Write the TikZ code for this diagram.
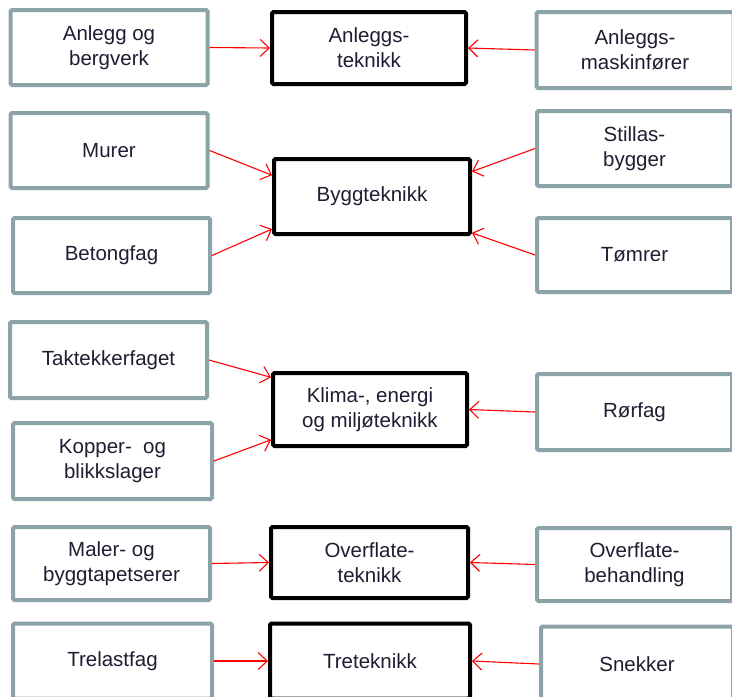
\documentclass[tikz,border=0pt]{standalone}
\usepackage{fontspec}
\setmainfont{Liberation Sans}
\usetikzlibrary{arrows.meta}
\definecolor{boxgray}{RGB}{140,164,167}
\definecolor{txtcol}{RGB}{30,30,50}

\begin{document}
\begin{tikzpicture}[x=1pt,y=-1pt,
  trade/.style={draw=boxgray,line width=4pt,rounded corners=1.5pt,fill=white,
    minimum width=197pt,minimum height=75pt,inner sep=0pt,align=center,
    text=txtcol,font=\fontsize{20.5}{25}\selectfont},
  area/.style={trade,draw=black},
  feed/.style={red,line width=1.1pt,-{Straight Barb[length=9pt,width=17pt]}}]
\fill[white] (0,0) rectangle (732,697);
\clip (0,0) rectangle (732,697);
% row 1
\node[trade] (anlegg) at (109,47.5) {Anlegg og\\bergverk};
\node[area,minimum width=194pt,minimum height=72pt] (anleggtek) at (369,48) {Anleggs-\\teknikk};
\node[trade,minimum height=76pt] (maskin) at (635,50) {Anleggs-\\maskinfører};
\draw[feed] (anlegg.east) -- (anleggtek.west);
\draw[feed] (maskin.west) -- (anleggtek.east);
% row 2
\node[trade] (murer) at (109,150.5) {Murer};
\node[trade] (betong) at (111.5,255.5) {Betongfag};
\node[area,minimum width=196pt] (bygg) at (372,196.5) {Byggteknikk};
\node[trade,minimum width=195pt] (stillas) at (634.5,148.5) {Stillas-\\bygger};
\node[trade,minimum width=195pt,minimum height=74pt] (tomrer) at (634.5,255) {Tømrer};
\draw[feed] (murer.east) -- (bygg.168);
\draw[feed] (betong.east) -- (bygg.198);
\draw[feed] (stillas.west) -- (bygg.14);
\draw[feed] (tomrer.west) -- (bygg.-20);
% row 3
\node[trade,minimum height=76pt] (tak) at (108.5,360) {Taktekkerfaget};
\node[trade,minimum width=199pt,minimum height=76pt] (kopper) at (112.5,461) {Kopper-\ \ og\\blikkslager};
\node[area,minimum width=194pt,minimum height=73pt] (klima) at (370,409.5) {Klima-, energi\\og miljøteknikk};
\node[trade,minimum width=195pt,minimum height=76pt] (rorfag) at (634.5,412) {Rørfag};
\draw[feed] (tak.east) -- (klima.162);
\draw[feed] (kopper.east) -- (klima.197);
\draw[feed] (rorfag.west) -- (klima.east);
% row 4
\node[trade,minimum height=73pt] (maler) at (111.5,563.5) {Maler- og\\byggtapetserer};
\node[area,minimum width=197pt,minimum height=71pt] (overtek) at (369.5,562.5) {Overflate-\\teknikk};
\node[trade,minimum width=195pt,minimum height=73pt] (overbeh) at (634.5,564.5) {Overflate-\\behandling};
\draw[feed] (maler.east) -- (overtek.west);
\draw[feed] (overbeh.west) -- (overtek.east);
% row 5
\node[trade,minimum width=199pt] (trelast) at (112.5,661) {Trelastfag};
\node[area,minimum width=200pt] (tretek) at (370,661) {Treteknikk};
\node[trade,minimum width=192pt] (snekker) at (637,664) {Snekker};
\draw[feed] (trelast.east) -- (tretek.west);
\draw[feed] (snekker.west) -- (tretek.east);
\end{tikzpicture}
\end{document}
